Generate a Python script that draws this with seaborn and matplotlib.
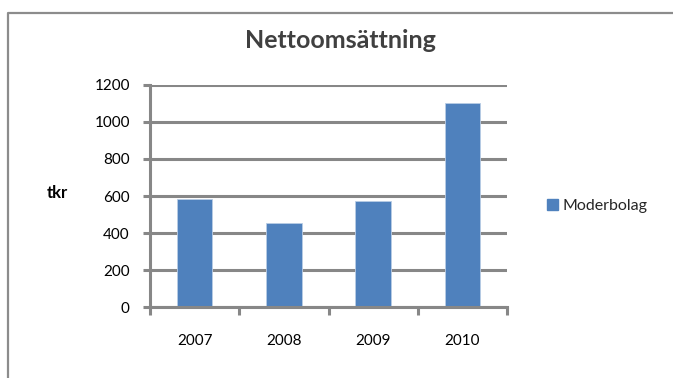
import matplotlib
matplotlib.use("Agg")
import matplotlib.pyplot as plt
import matplotlib.lines as mlines
import matplotlib.patches as mpatches
import seaborn as sns
import pandas as pd

years = ["2007", "2008", "2009", "2010"]
values = [584, 452, 573, 1103]
series_name = "Moderbolag"
title = "Nettoomsättning"
ylabel = "tkr"
yticks = [0, 200, 400, 600, 800, 1000, 1200]

df = pd.DataFrame({"year": years, "value": values, "series": [series_name] * len(years)})

sns.set_theme(style="white")
plt.rcParams["font.family"] = ["Lato", "DejaVu Sans"]

W, H = 673, 378
fig = plt.figure(figsize=(W / 100, H / 100), dpi=100)
ax = fig.add_axes([150 / W, 1 - 307.3 / H, 357 / W, (307.3 - 84.7) / H])

bar_color = "#4F81BD"
grid_color = "#878787"
sns.barplot(data=df, x="year", y="value", color=bar_color, width=0.4, saturation=1,
            edgecolor="#B9CDE5", linewidth=0.6, ax=ax, legend=False)

ax.set_ylim(0, 1200)
ax.set_xlim(-0.5, 3.5)
ax.set_yticks(yticks)
ax.set_yticklabels([str(v) for v in yticks])
ax.set_axisbelow(True)
ax.yaxis.grid(True, color=grid_color, linewidth=2.2)
ax.xaxis.grid(False)

for s in ["top", "right"]:
    ax.spines[s].set_visible(False)
for s in ["left", "bottom"]:
    ax.spines[s].set_color(grid_color)
    ax.spines[s].set_linewidth(2.2)
    ax.spines[s].set_zorder(5)

ax.tick_params(axis="y", which="major", length=5, width=2.2, color=grid_color,
               pad=9.5, labelsize=11, labelcolor="#000000", left=True)
ax.set_xticks([-0.5, 0.5, 1.5, 2.5, 3.5], minor=True)
ax.tick_params(axis="x", which="minor", length=5.5, width=2.2, color=grid_color, bottom=True)
ax.tick_params(axis="x", which="major", length=0, pad=19, labelsize=11, labelcolor="#000000")
ax.set_xlabel("")
ax.set_ylabel("")

fig.text(340 / W, 1 - 48.5 / H, title, ha="center", va="baseline",
         fontsize=18, fontweight="bold", color="#404040")
fig.text(57.5 / W, 1 - 198 / H, ylabel, ha="center", va="baseline",
         fontsize=12, fontweight="bold", color="#000000")

handle = mpatches.Patch(facecolor=bar_color, edgecolor=bar_color, label=series_name)
fig.legend(handles=[handle], loc="center left", bbox_to_anchor=(541 / W, 1 - 206 / H),
           frameon=False, fontsize=11.5, handlelength=0.65, handleheight=0.65,
           handletextpad=0.3, borderaxespad=0)

# chart frame
fig.add_artist(mlines.Line2D([8 / W, 8 / W, 1.0], [0, 1 - 12.5 / H, 1 - 12.5 / H],
                             transform=fig.transFigure, color="#8C8C8C", linewidth=1.6))

fig.savefig("out.png", dpi=100, facecolor="white")
